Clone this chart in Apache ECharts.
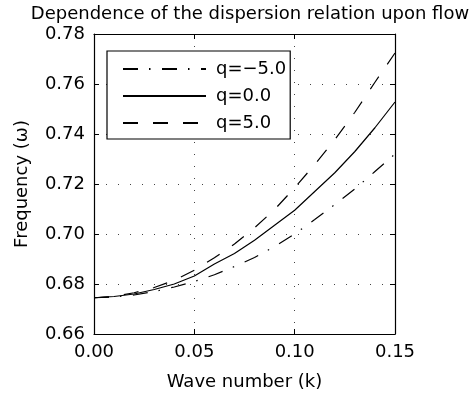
<!DOCTYPE html>
<html><head><meta charset="utf-8">
<script src="https://cdn.jsdelivr.net/npm/echarts@6/dist/echarts.min.js"></script>
<style>html,body{margin:0;padding:0;background:#fff}#c{width:473px;height:401px}</style>
</head><body><div id="c"></div>
<script>
const waveNumbers = [0,0.01,0.02,0.03,0.04,0.05,0.06,0.07,0.08,0.09,0.10,0.11,0.12,0.13,0.14,0.15];
const freqQm5 = [0.6745,0.6748,0.6756,0.6770,0.6788,0.6810,0.6837,0.6870,0.6906,0.6950,0.7000,0.7058,0.7118,0.7180,0.7250,0.7320];
const freqQ0  = [0.6745,0.6750,0.6760,0.6778,0.6800,0.6832,0.6880,0.6922,0.6975,0.7035,0.7095,0.7170,0.7245,0.7330,0.7425,0.7528];
const freqQp5 = [0.6745,0.6750,0.6765,0.6786,0.6815,0.6855,0.6905,0.6960,0.7025,0.7098,0.7185,0.7278,0.7377,0.7487,0.7607,0.7724];
const seriesNames = ['q=\u22125.0','q=0.0','q=5.0'];
const xTicks = {min:0, max:0.15, interval:0.05};
const yTicks = {min:0.66, max:0.78, interval:0.02};

const FONT = 'DejaVu Sans';
const chart = echarts.init(document.getElementById('c'), null, {renderer:'canvas'});
const pair = (ys) => waveNumbers.map((k,i)=>[k, ys[i]]);
const axisCommon = {
  axisLine:{show:true, onZero:false, lineStyle:{color:'#000', width:1.2}},
  axisTick:{show:true, inside:true, length:5, lineStyle:{color:'#000', width:1}},
};
chart.setOption({
  animation:false,
  backgroundColor:'#fff',
  title:{text:'Dependence of the dispersion relation upon flow', left:245, textAlign:'center', top:0,
    textStyle:{fontFamily:FONT, fontSize:18, fontWeight:'normal', color:'#000'}},
  grid:{left:94, right:78, top:34, bottom:67},
  legend:{
    orient:'vertical', left:107, top:51, padding:[9,4,7,15], itemGap:9,
    itemWidth:83, itemHeight:18,
    backgroundColor:'#fff', borderColor:'#000', borderWidth:1.2,
    itemStyle:{opacity:0, borderWidth:0},
    textStyle:{fontFamily:FONT, fontSize:18, color:'#000', padding:[0,0,0,5]},
    data: seriesNames
  },
  xAxis:[
    Object.assign({type:'value', min:xTicks.min, max:xTicks.max, interval:xTicks.interval,
      name:'Wave number (k)', nameLocation:'middle', nameGap:39,
      nameTextStyle:{fontFamily:FONT, fontSize:18, color:'#000'},
      axisLabel:{fontFamily:FONT, fontSize:18, color:'#000', margin:9, formatter:v=>v.toFixed(2)},
      splitLine:{show:true, lineStyle:{color:'#444', type:[1,11], width:1}}}, axisCommon),
    Object.assign({type:'value', position:'top', min:xTicks.min, max:xTicks.max, interval:xTicks.interval,
      axisLabel:{show:false}, splitLine:{show:false}}, axisCommon)
  ],
  yAxis:[
    Object.assign({type:'value', min:yTicks.min, max:yTicks.max, interval:yTicks.interval,
      name:'Frequency (\u03c9)', nameLocation:'middle', nameGap:63,
      nameTextStyle:{fontFamily:FONT, fontSize:18, color:'#000'},
      axisLabel:{fontFamily:FONT, fontSize:18, color:'#000', margin:9, formatter:v=>v.toFixed(2)},
      splitLine:{show:true, lineStyle:{color:'#444', type:[1,11], width:1}}}, axisCommon),
    Object.assign({type:'value', position:'right', min:yTicks.min, max:yTicks.max, interval:yTicks.interval,
      axisLabel:{show:false}, splitLine:{show:false}}, axisCommon)
  ],
  series:[
    {name:seriesNames[0], type:'line', data:pair(freqQm5), symbol:'none', z:3,
      lineStyle:{color:'#000', width:1.2, type:[15,11,1.5,11.5]}, itemStyle:{color:'#000'}},
    {name:seriesNames[1], type:'line', data:pair(freqQ0), symbol:'none', z:3,
      lineStyle:{color:'#000', width:1.2, type:'solid'}, itemStyle:{color:'#000'}},
    {name:seriesNames[2], type:'line', data:pair(freqQp5), symbol:'none', z:3,
      lineStyle:{color:'#000', width:1.2, type:[15,15]}, itemStyle:{color:'#000'}}
  ]
});
</script></body></html>
